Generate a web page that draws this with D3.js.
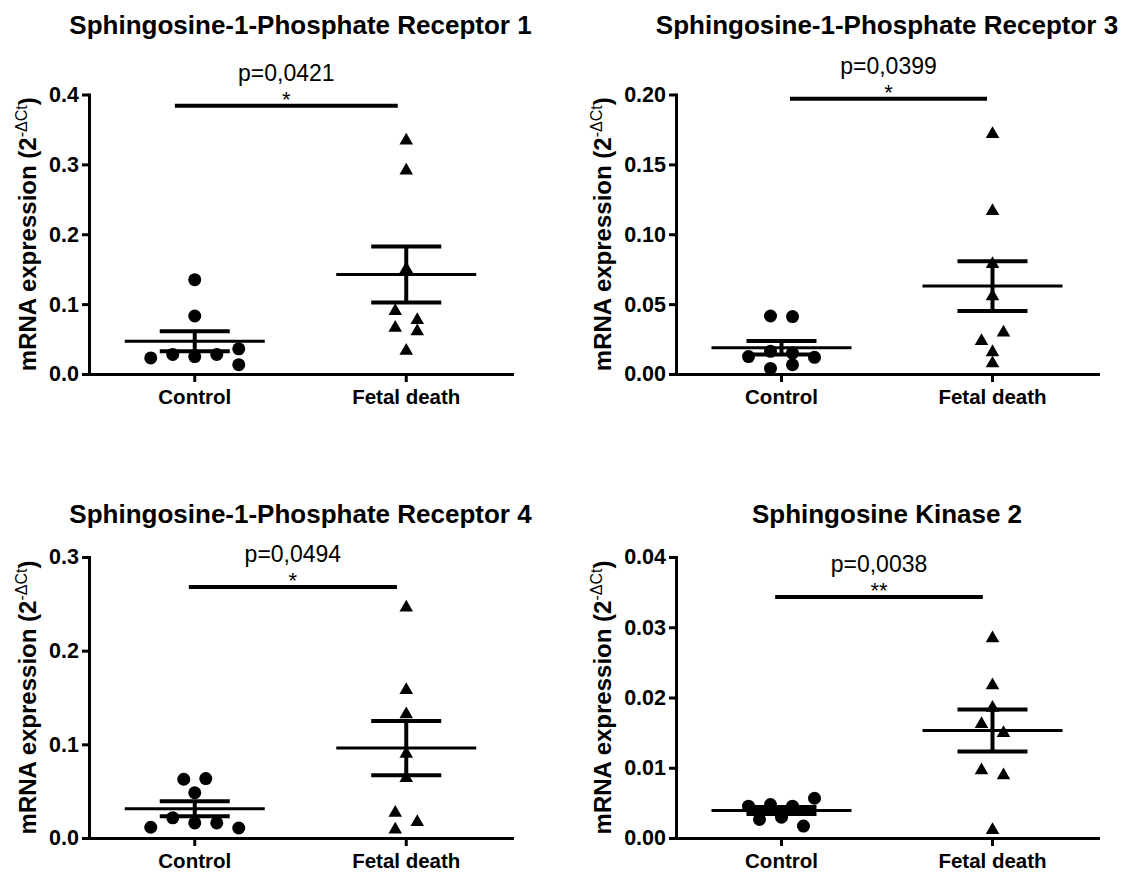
<!DOCTYPE html>
<html>
<head>
<meta charset="utf-8">
<script src="https://cdn.jsdelivr.net/npm/d3@7"></script>
<style>
  body { margin: 0; background: #fff; }
  svg { display: block; font-family: 'Liberation Sans', Arial, sans-serif; }
</style>
</head>
<body>
<svg id="chart" width="1122" height="874"></svg>
<script>
// x categories shared by every panel
const groups = ['Control', 'Fetal death'];

// Sphingosine-1-Phosphate Receptor 1
const s1pr1Control = [0.025, 0.028, 0.028, 0.023, 0.036, 0.0134, 0.083, 0.135];
const s1pr1Fetal = [0.080, 0.093, 0.064, 0.069, 0.036, 0.153, 0.294, 0.337];
const s1pr1Mean = [0.047, 0.1424];
const s1pr1Sem = [0.0143, 0.0402];
const s1pr1Ticks = [0, 0.1, 0.2, 0.3, 0.4];

// Sphingosine-1-Phosphate Receptor 3
const s1pr3Control = [0.0150, 0.0162, 0.0119, 0.0125, 0.0066, 0.0040, 0.0411, 0.0415];
const s1pr3Fetal = [0.031, 0.025, 0.017, 0.009, 0.057, 0.080, 0.118, 0.173];
const s1pr3Mean = [0.0188, 0.0629];
const s1pr3Sem = [0.0048, 0.0178];
const s1pr3Ticks = [0, 0.05, 0.10, 0.15, 0.20];

// Sphingosine-1-Phosphate Receptor 4
const s1pr4Control = [0.0161, 0.0215, 0.0161, 0.0115, 0.0107, 0.0483, 0.0634, 0.0627];
const s1pr4Fetal = [0.019, 0.029, 0.011, 0.248, 0.160, 0.134, 0.092, 0.066];
const s1pr4Mean = [0.0312, 0.096];
const s1pr4Sem = [0.0081, 0.029];
const s1pr4Ticks = [0, 0.1, 0.2, 0.3];

// Sphingosine Kinase 2
const sphk2Control = [0.00453, 0.00476, 0.00566, 0.00453, 0.00297, 0.00263, 0.0017];
const sphk2Fetal = [0.0287, 0.022, 0.0188, 0.0152, 0.0165, 0.0092, 0.0099, 0.0014];
const sphk2Mean = [0.0039, 0.0153];
const sphk2Sem = [0.0005, 0.003];
const sphk2Ticks = [0, 0.01, 0.02, 0.03, 0.04];

const titles = [
    'Sphingosine-1-Phosphate Receptor 1',
    'Sphingosine-1-Phosphate Receptor 3',
    'Sphingosine-1-Phosphate Receptor 4',
    'Sphingosine Kinase 2'
];
const pLabels = ['p=0,0421', 'p=0,0399', 'p=0,0494', 'p=0,0038'];
const stars = ['*', '*', '*', '**'];

// where each panel sits on the page, and where its significance line goes
const layout = [
    { x0: 89, x1: 512, top: 94.5, bottom: 374, titleY: 33.5, fmt: '.1f', sigFrom: 0.203, sigTo: 0.730, sigAt: 0.384 },
    { x0: 676, x1: 1098, top: 94.5, bottom: 374, titleY: 33.5, fmt: '.2f', sigFrom: 0.270, sigTo: 0.737, sigAt: 0.197 },
    { x0: 89, x1: 512, top: 557, bottom: 838, titleY: 523, fmt: '.1f', sigFrom: 0.236, sigTo: 0.728, sigAt: 0.268 },
    { x0: 676, x1: 1098, top: 557, bottom: 838, titleY: 523, fmt: '.2f', sigFrom: 0.235, sigTo: 0.727, sigAt: 0.0343 }
];

const panels = [
    { control: s1pr1Control, fetal: s1pr1Fetal, mean: s1pr1Mean, sem: s1pr1Sem, ticks: s1pr1Ticks },
    { control: s1pr3Control, fetal: s1pr3Fetal, mean: s1pr3Mean, sem: s1pr3Sem, ticks: s1pr3Ticks },
    { control: s1pr4Control, fetal: s1pr4Fetal, mean: s1pr4Mean, sem: s1pr4Sem, ticks: s1pr4Ticks },
    { control: sphk2Control, fetal: sphk2Fetal, mean: sphk2Mean, sem: sphk2Sem, ticks: sphk2Ticks }
];

const STEP = 22;       // horizontal spacing between scattered points
const COLLIDE = 10.8;  // vertical distance under which two points would overlap
const RADIUS = 6.5;
const TRI_SIZE = 80;

const svg = d3.select('#chart');

/**
 * Spread points sideways like a column scatter: each point takes the free
 * column closest to the centre, then each row of touching points is re-centred.
 */
function dodge (values, y) {
    const placed = [];
    values.forEach(v => {
        const yy = y(v);
        let slot = 0;
        for (let k = 0; ; k++) {
            const cand = k === 0 ? 0 : (k % 2 ? -Math.ceil(k / 2) : k / 2);
            if (!placed.some(p => p.slot === cand && Math.abs(p.yy - yy) < COLLIDE)) {
                slot = cand;
                break;
            }
        }
        placed.push({ v, yy, slot });
    });
    // group points whose rows touch, then centre each group
    const sorted = placed.slice().sort((a, b) => a.yy - b.yy);
    const clusters = [];
    let cluster = [];
    sorted.forEach((p, i) => {
        if (i > 0 && p.yy - sorted[i - 1].yy >= COLLIDE) {
            clusters.push(cluster);
            cluster = [];
        }
        cluster.push(p);
    });
    clusters.push(cluster);
    clusters.forEach(c => {
        const shift = -(d3.min(c, d => d.slot) + d3.max(c, d => d.slot)) / 2;
        c.forEach(p => { p.offset = (p.slot + shift) * STEP; });
    });
    return placed;
}

panels.forEach((panel, i) => {
    const lay = layout[i];
    const g = svg.append('g');

    const x = d3.scaleBand().domain(groups).range([lay.x0, lay.x1]).padding(0);
    const y = d3.scaleLinear().domain([0, d3.max(panel.ticks)]).range([lay.bottom, lay.top]);
    const cx = name => x(name) + x.bandwidth() / 2;

    // title
    g.append('text')
        .attr('x', (lay.x0 + lay.x1) / 2)
        .attr('y', lay.titleY)
        .attr('text-anchor', 'middle')
        .attr('font-size', 26)
        .attr('font-weight', 'bold')
        .text(titles[i]);

    // y axis
    const yAxis = g.append('g')
        .attr('transform', `translate(${lay.x0},0)`)
        .call(d3.axisLeft(y).tickValues(panel.ticks).tickFormat(d3.format(lay.fmt))
            .tickSize(7).tickSizeOuter(0).tickPadding(3));
    yAxis.selectAll('text')
        .attr('font-size', 21.5)
        .attr('font-weight', 'bold')
        .attr('font-family', "'Liberation Sans', Arial, sans-serif")
        .attr('fill', '#000');
    yAxis.selectAll('line').attr('stroke', '#000').attr('stroke-width', 3);
    yAxis.select('.domain').attr('stroke', '#000').attr('stroke-width', 3).attr('stroke-linecap', 'square');

    // x axis
    const xAxis = g.append('g')
        .attr('transform', `translate(0,${lay.bottom})`)
        .call(d3.axisBottom(x).tickSize(8).tickSizeOuter(0).tickPadding(7));
    xAxis.selectAll('text')
        .attr('font-size', 20.5)
        .attr('font-weight', 'bold')
        .attr('font-family', "'Liberation Sans', Arial, sans-serif")
        .attr('fill', '#000');
    xAxis.selectAll('line').attr('stroke', '#000').attr('stroke-width', 3);
    xAxis.select('.domain').attr('stroke', '#000').attr('stroke-width', 3).attr('stroke-linecap', 'square');

    // y axis title, placed just left of the tick labels
    const box = yAxis.node().getBBox();
    const labelX = lay.x0 + box.x - 13;
    const label = g.append('text')
        .attr('transform', `translate(${labelX},${(lay.top + lay.bottom) / 2}) rotate(-90)`)
        .attr('text-anchor', 'middle')
        .attr('font-size', 24)
        .attr('font-weight', 'bold');
    label.append('tspan').text('mRNA expression (2');
    label.append('tspan').attr('font-size', 16).attr('font-weight', 'normal').attr('dy', -9).text('-ΔCt');
    label.append('tspan').attr('dy', 9).text(')');

    // scattered points
    const ctrl = dodge(panel.control, y);
    g.append('g').selectAll('circle')
        .data(ctrl)
        .join('circle')
        .attr('cx', d => cx(groups[0]) + d.offset)
        .attr('cy', d => d.yy)
        .attr('r', RADIUS)
        .attr('fill', '#000');

    const triShift = Math.sqrt(TRI_SIZE / (3 * Math.sqrt(3))) / 2;
    const fetal = dodge(panel.fetal, y);
    g.append('g').selectAll('path')
        .data(fetal)
        .join('path')
        .attr('d', d3.symbol(d3.symbolTriangle, TRI_SIZE))
        .attr('transform', d => `translate(${cx(groups[1]) + d.offset},${d.yy + triShift})`)
        .attr('fill', '#000');

    // mean with SEM
    groups.forEach((name, j) => {
        const c = cx(name);
        const m = panel.mean[j];
        const s = panel.sem[j];
        const eb = g.append('g').attr('stroke', '#000');
        eb.append('line')
            .attr('x1', c - 70).attr('x2', c + 70)
            .attr('y1', y(m)).attr('y2', y(m))
            .attr('stroke-width', 3);
        eb.append('line')
            .attr('x1', c).attr('x2', c)
            .attr('y1', y(m - s)).attr('y2', y(m + s))
            .attr('stroke-width', 4);
        [m - s, m + s].forEach(v => {
            eb.append('line')
                .attr('x1', c - 35).attr('x2', c + 35)
                .attr('y1', y(v)).attr('y2', y(v))
                .attr('stroke-width', 4);
        });
    });

    // significance line with p value
    const sx0 = lay.x0 + (lay.x1 - lay.x0) * lay.sigFrom;
    const sx1 = lay.x0 + (lay.x1 - lay.x0) * lay.sigTo;
    const sy = y(lay.sigAt);
    g.append('line')
        .attr('x1', sx0).attr('x2', sx1)
        .attr('y1', sy).attr('y2', sy)
        .attr('stroke', '#000')
        .attr('stroke-width', 4);
    g.append('text')
        .attr('x', (sx0 + sx1) / 2)
        .attr('y', sy - 25)
        .attr('text-anchor', 'middle')
        .attr('font-size', 23)
        .text(pLabels[i]);
    g.append('text')
        .attr('x', (sx0 + sx1) / 2)
        .attr('y', sy + 1)
        .attr('text-anchor', 'middle')
        .attr('font-size', 22)
        .text(stars[i]);
});
</script>
</body>
</html>
